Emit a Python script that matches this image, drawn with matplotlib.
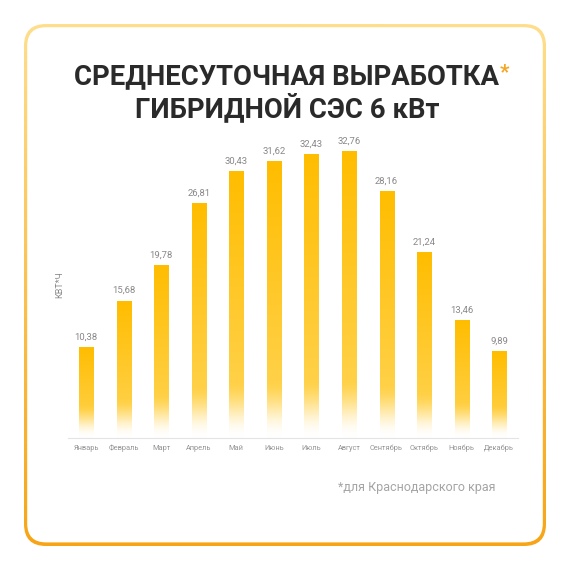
import matplotlib
matplotlib.use("Agg")
import matplotlib.pyplot as plt
from matplotlib.patches import FancyBboxPatch
import numpy as np

# data
months = ["Январь", "Февраль", "Март", "Апрель", "Май", "Июнь",
          "Июль", "Август", "Сентябрь", "Октябрь", "Ноябрь", "Декабрь"]
values = [10.38, 15.68, 19.78, 26.81, 30.43, 31.62,
          32.43, 32.76, 28.16, 21.24, 13.46, 9.89]
title_line1 = "СРЕДНЕСУТОЧНАЯ ВЫРАБОТКА"
title_line2 = "ГИБРИДНОЙ СЭС 6 кВт"
y_label = "КВТ*Ч"
footnote = "*для Краснодарского края"

plt.rcParams['font.family'] = ['Roboto', 'DejaVu Sans']

W = 570
fig = plt.figure(figsize=(5.7, 5.7), dpi=100)
fig.patch.set_facecolor('white')

# background layer in pixel coordinates
bg = fig.add_axes([0, 0, 1, 1], zorder=0)
bg.set_xlim(0, W)
bg.set_ylim(W, 0)
bg.axis('off')

# rounded frame with vertical gradient border
outer = FancyBboxPatch((24, 24), 522, 522, boxstyle="round,pad=0,rounding_size=22",
                       facecolor='none', edgecolor='none')
bg.add_patch(outer)
t = np.linspace(0, 1, 256)[:, None]
top_c = np.array([255, 222, 140]) / 255
bot_c = np.array([247, 165, 22]) / 255
border_img = (top_c * (1 - t) + bot_c * t)[:, None, :]
im = bg.imshow(border_img, extent=(24, 546, 546, 24), aspect='auto', zorder=1)
im.set_clip_path(outer)
inner = FancyBboxPatch((27.2, 27.2), 515.6, 515.2, boxstyle="round,pad=0,rounding_size=19",
                       facecolor='white', edgecolor='none', zorder=2)
bg.add_patch(inner)
bg.set_xlim(0, W)
bg.set_ylim(W, 0)

# title
t1 = bg.text(287, 77, title_line1, ha='center', va='center', fontsize=19.8,
             fontweight='bold', color='#2a2a2a', zorder=3)
bg.text(287, 108, title_line2, ha='center', va='center', fontsize=19.8,
        fontweight='bold', color='#2a2a2a', zorder=3)
fig.canvas.draw()
ext = t1.get_window_extent()
bg.text(ext.x1 + 0.5, 73, "*", ha='left', va='center', fontsize=15,
        fontweight='bold', color='#F5A623', zorder=3)

# y label and footnote
bg.text(60, 285, y_label, ha='center', va='center', rotation=90,
        fontsize=6.5, color='#8a8a8a', zorder=3)
bg.text(495, 487, footnote, ha='right', va='center', fontsize=9,
        color='#a5a5a5', zorder=3)

# chart axes
px_per_unit = 8.76
ax_left, ax_right, ax_base, ax_top = 68, 518, 438, 140
ax = fig.add_axes([ax_left / W, (W - ax_base) / W, (ax_right - ax_left) / W,
                   (ax_base - ax_top) / W], zorder=1)
ax.patch.set_alpha(0)

x = np.arange(len(values))
bar_w = 0.373
bars = ax.bar(x, values, width=bar_w, color='none', edgecolor='none')

top_col = np.array([255, 189, 0]) / 255
low_col = np.array([255, 214, 90]) / 255
for xi, v, b in zip(x, values, bars):
    n = 300
    f = np.linspace(1, 0, n)  # 1 at top, 0 at bottom
    h_px = v * px_per_unit
    fade = min(1.0, (22 + 0.13 * h_px) / h_px)
    col = top_col * f[:, None] + low_col * (1 - f[:, None])
    a = np.clip(f / fade, 0, 1)
    a = a * a * (3 - 2 * a)
    rgb = col * a[:, None] + (1 - a[:, None]) * np.array([1, 1, 1])
    rgba = np.concatenate([rgb, np.ones((n, 1))], axis=1)[:, None, :]
    img = ax.imshow(rgba, extent=(xi - bar_w / 2, xi + bar_w / 2, 0, v),
                    aspect='auto', zorder=2, origin='upper')
    img.set_clip_path(b)
    ax.annotate(f"{v:.2f}".replace('.', ','), (xi, v), xytext=(0, 7.2),
                textcoords='offset points', ha='center', va='center',
                fontsize=6.8, color='#888888')

ax.set_xlim(-0.48, 11.5)
ax.set_ylim(0, (ax_base - ax_top) / px_per_unit)
ax.set_xticks(x)
ax.set_xticklabels(months, fontsize=5.3, color='#949494')
ax.tick_params(axis='x', length=0, pad=5)
ax.set_yticks([])
for s in ['top', 'right', 'left']:
    ax.spines[s].set_visible(False)
ax.spines['bottom'].set_color('#e4e4e4')
ax.spines['bottom'].set_linewidth(0.8)

fig.savefig("out.png", dpi=100, facecolor='white')
